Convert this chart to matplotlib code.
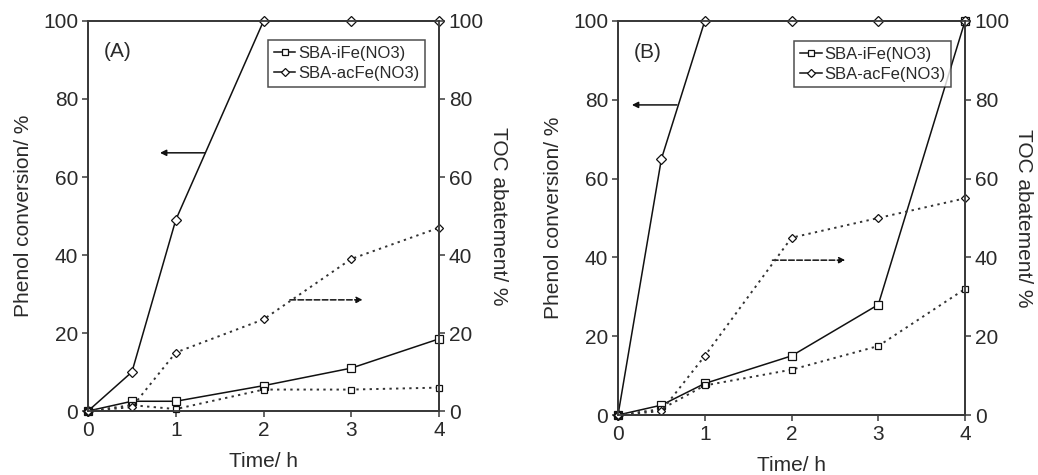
import matplotlib
matplotlib.use("Agg")
import matplotlib.pyplot as plt

plt.rcParams['font.family'] = ['Liberation Sans', 'DejaVu Sans']

# DATA #
time_h = [0, 0.5, 1, 2, 3, 4]
series_names = ["SBA-iFe(NO3)", "SBA-acFe(NO3)"]

# panel A
phenol_A_iFe = [0, 2.5, 2.5, 6.5, 11, 18.5]
phenol_A_acFe = [0, 10, 49, 100, 100, 100]
toc_A_iFe = [0, 1.5, 0.5, 5.5, 5.5, 6]
toc_A_acFe = [0, 1, 15, 23.5, 39, 47]

# panel B
phenol_B_iFe = [0, 2.5, 8, 15, 28, 100]
phenol_B_acFe = [0, 65, 100, 100, 100, 100]
toc_B_iFe = [0, 1.5, 7.5, 11.5, 17.5, 32]
toc_B_acFe = [0, 1, 15, 45, 50, 55]

panel_labels = ["(A)", "(B)"]
# arrows: (x_start, x_end, y)
solid_arrows = [(1.33, 0.82, 66.2), (0.68, 0.16, 78.7)]
dashed_arrows = [(2.30, 3.13, 28.5), (1.78, 2.62, 39.3)]

x_ticks = [0, 1, 2, 3, 4]
y_ticks = [0, 20, 40, 60, 80, 100]

LINE = "#111111"
DOT = "#333333"
TXT = "#2a2a2a"
SPINE = "#3a3a3a"


def drawPanel(fig, rect, phenol, toc, label, solid_arr, dashed_arr):
    ax = fig.add_axes(rect)
    ax2 = ax.twinx()

    mk = dict(markerfacecolor="white", markeredgecolor=LINE, markersize=5.5,
              markeredgewidth=0.9, clip_on=False)
    ax.plot(time_h, phenol[0], "-", color=LINE, lw=1.1, marker="s", zorder=3, **mk)
    ax.plot(time_h, phenol[1], "-", color=LINE, lw=1.1, marker="D", zorder=3,
            **{**mk, "markersize": 5})
    ax2.plot(time_h, toc[0], linestyle=(0, (1.2, 2.2)), color=DOT, lw=1.4, marker="s",
             **{**mk, "markersize": 5})
    ax2.plot(time_h, toc[1], linestyle=(0, (1.2, 2.2)), color=DOT, lw=1.4, marker="D",
             **{**mk, "markersize": 4.5})

    for a in (ax, ax2):
        a.set_xlim(0, 4)
        a.set_ylim(0, 100)
        a.set_yticks(y_ticks)
        a.tick_params(direction="out", length=4, width=1.1, labelsize=15, pad=3,
                      colors=SPINE, labelcolor=TXT)
        for s in a.spines.values():
            s.set_linewidth(1.3)
            s.set_color(SPINE)
    ax.set_xticks(x_ticks)

    ax.set_xlabel("Time/ h", fontsize=15, labelpad=9, color=TXT)
    ax.set_ylabel("Phenol conversion/ %", fontsize=15, labelpad=7, color=TXT)
    ax2.set_ylabel("TOC abatement/ %", fontsize=15, rotation=270, labelpad=17, color=TXT)

    ax.text(0.045, 0.945, label, transform=ax.transAxes, fontsize=15,
            ha="left", va="top", color=TXT)

    # arrows
    ax.annotate("", xy=(solid_arr[1], solid_arr[2]), xytext=(solid_arr[0], solid_arr[2]),
                arrowprops=dict(arrowstyle="-|>", color=LINE, lw=1.1,
                                mutation_scale=9, shrinkA=0, shrinkB=0))
    ax.annotate("", xy=(dashed_arr[1], dashed_arr[2]), xytext=(dashed_arr[0], dashed_arr[2]),
                arrowprops=dict(arrowstyle="-|>", color=LINE, lw=1.1, linestyle="--",
                                mutation_scale=9, shrinkA=0, shrinkB=0))

    leg = ax.legend(ax.lines[:2], series_names, loc="upper right",
                    bbox_to_anchor=(0.96, 0.95), fontsize=12, frameon=True,
                    fancybox=False, handlelength=1.3, handletextpad=0.15,
                    borderpad=0.35, labelspacing=0.3, borderaxespad=0)
    for h in leg.legend_handles:
        h.set_markersize(3.8)
    for t in leg.get_texts():
        t.set_color(TXT)
    leg.get_frame().set_edgecolor("#222222")
    leg.get_frame().set_linewidth(1.1)
    return ax


fig = plt.figure(figsize=(10.38, 4.75), dpi=100)

drawPanel(fig, [0.0848, 0.1347, 0.3382, 0.8211],
          (phenol_A_iFe, phenol_A_acFe), (toc_A_iFe, toc_A_acFe),
          panel_labels[0], solid_arrows[0], dashed_arrows[0])
drawPanel(fig, [0.5954, 0.1263, 0.3343, 0.8295],
          (phenol_B_iFe, phenol_B_acFe), (toc_B_iFe, toc_B_acFe),
          panel_labels[1], solid_arrows[1], dashed_arrows[1])

fig.savefig("out.png", dpi=100)
plt.close(fig)
